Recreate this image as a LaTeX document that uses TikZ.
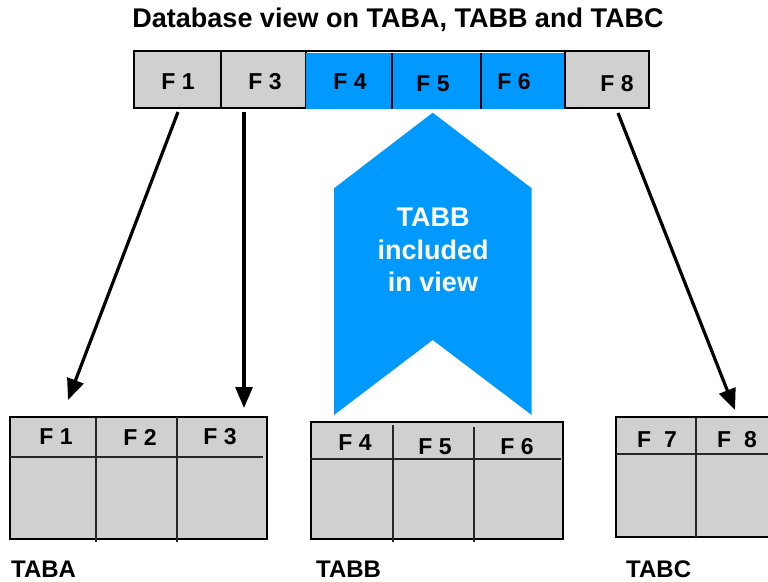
\documentclass[tikz,border=0pt]{standalone}
\usepackage{fontspec}
\setmainfont{Liberation Sans}
\usetikzlibrary{arrows.meta}
\definecolor{cellgray}{RGB}{208,208,208}
\definecolor{viewblue}{RGB}{0,153,255}
\begin{document}
\begin{tikzpicture}[x=1pt,y=-1pt,
  graycell/.style={draw=black, line width=1.5pt, fill=cellgray, minimum height=57pt, inner sep=0pt, outer sep=0pt},
  bluecell/.style={fill=viewblue, minimum height=56pt, inner sep=0pt, outer sep=0pt},
  flabel/.style={font=\fontsize{23}{27}\selectfont\bfseries, inner sep=0pt},
  tablabel/.style={font=\fontsize{24}{28}\selectfont\bfseries, inner sep=0pt, anchor=base west},
  tabbox/.style={draw=black, line width=2pt, fill=cellgray, inner sep=0pt, outer sep=0pt},
  grid/.style={line width=1.2pt, draw=black!85},
  conn/.style={line width=3.2pt, -{Triangle[length=21pt,width=17pt]}}]
\useasboundingbox (0,0) rectangle (768,581);
% title
\node[font=\fontsize{27}{31}\selectfont\bfseries, inner sep=0pt] (title) at (398,20) {Database view on TABA, TABB and TABC};
% view bar
\node[graycell, minimum width=87pt] (v1) at (177.5,79.5) {};
\node[graycell, minimum width=85pt] (v3) at (263.5,79.5) {};
\node[bluecell, minimum width=86pt] (v4) at (349,81) {};
\node[bluecell, minimum width=89pt] (v5) at (436.5,81) {};
\node[bluecell, minimum width=84pt] (v6) at (523,81) {};
\node[graycell, minimum width=84pt] (v8) at (607,79.5) {};
\draw[line width=1.5pt] (v1.north west) -- (v8.north east);
\draw[line width=1.5pt] (v4.north east) -- (v4.south east);
\draw[line width=1.5pt] (v5.north east) -- (v5.south east);
\node[flabel] (t1) at (178,82) {F 1};
\node[flabel] (t3) at (265,82) {F 3};
\node[flabel] (t4) at (350,82) {F 4};
\node[flabel] (t5) at (433,84) {F 5};
\node[flabel] (t6) at (514,82) {F 6};
\node[flabel] (t8) at (617,84) {F 8};
% chevron
\fill[viewblue] (432.7,112.7) -- (531.7,188.3) -- (531.7,415) -- (432.7,340) -- (334,415) -- (334,188.3) -- cycle;
\node[font=\fontsize{27}{32.5}\selectfont\bfseries, text=white, align=center, inner sep=0pt] (inc) at (433,250) {TABB\\included\\in view};
% TABA
\node[tabbox, minimum width=257pt, minimum height=122pt] (taba) at (138.5,478) {};
\draw[grid] (10,457) -- (263,457);
\draw[grid] (96,417) -- (96,542);
\draw[grid] (177,417) -- (177,542);
\node[flabel] (a1) at (56,437) {F 1};
\node[flabel] (a2) at (140,437) {F 2};
\node[flabel] (a3) at (220,437) {F 3};
\node[tablabel] (la) at (11,577) {TABA};
% TABB
\node[tabbox, minimum width=252pt, minimum height=117pt] (tabb) at (437,480.5) {};
\draw[grid] (311,459) -- (561,459);
\draw[grid] (393,425) -- (393,542);
\draw[grid] (474,427) -- (474,542);
\node[flabel] (b4) at (355,443) {F 4};
\node[flabel] (b5) at (435,447) {F 5};
\node[flabel] (b6) at (517,447) {F 6};
\node[tablabel] (lb) at (316,577) {TABB};
% TABC
\node[tabbox, minimum width=160pt, minimum height=120pt] (tabc) at (696,477.3) {};
\draw[grid] (616,454) -- (768,454);
\draw[grid] (696,417) -- (696,537);
\node[flabel] (c7) at (657,440) {F\ \ 7};
\node[flabel] (c8) at (737,440) {F\ \ 8};
\node[tablabel] (lc) at (626,577) {TABC};
% connectors
\coordinate (e1) at (68,400);
\coordinate (e3) at (244,408);
\coordinate (e8) at (735,410);
\coordinate (s1) at (178,112);
\coordinate (s3) at (244,112);
\coordinate (s8) at (618,113);
\draw[conn] (s1) -- (e1);
\draw[conn] (s3) -- (e3);
\draw[conn] (s8) -- (e8);
\end{tikzpicture}
\end{document}
